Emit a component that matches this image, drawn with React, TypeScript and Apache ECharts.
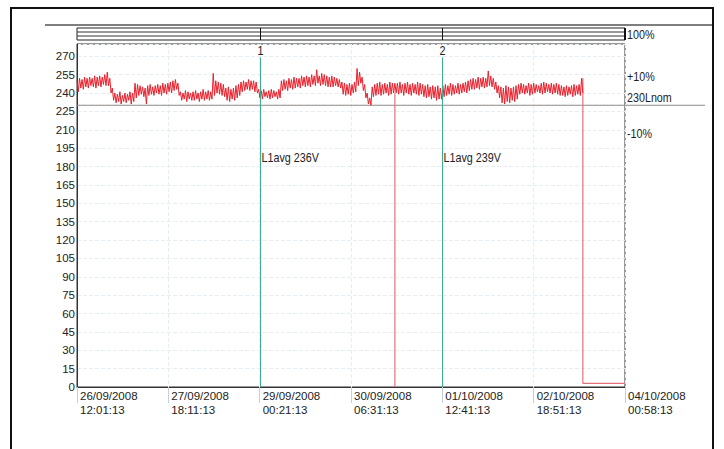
import React, { useEffect, useRef } from 'react';
import * as echarts from 'echarts';

// X axis: minutes since 26/09/2008 12:01:13
const xTickLabels = [
  '26/09/2008\n12:01:13',
  '27/09/2008\n18:11:13',
  '29/09/2008\n00:21:13',
  '30/09/2008\n06:31:13',
  '01/10/2008\n12:41:13',
  '02/10/2008\n18:51:13',
  '04/10/2008\n00:58:13',
];
const tickStepMin = 1810;
const xMaxMin = 10860;

// Y axis
const yMax = 280;
const yStep = 15;
const yLastLabel = 270;

// L1 voltage envelope per 50-minute bucket (max / min)
const bucketMin = 50;
const voltageMax = [
  250, 252, 251, 253, 252, 253, 252, 254, 253, 254, 253, 255, 257, 252, 244,
  240, 239, 241, 238, 240, 239, 241, 240,
  248,
  247, 246, 245, 244, 246, 247, 245, 246, 247, 246, 248, 247, 248, 249,
  250, 251, 248,
  241, 240, 242, 241, 240, 241, 242, 240, 241, 243, 241, 242, 241,
  256,
  250, 249, 248, 247,
  244, 245, 243, 244, 246, 247,
  249, 250, 249, 251, 250, 250, 249,
  243, 242, 243, 241, 242, 243, 242, 241, 243,
  250, 251, 250, 252, 251, 253, 252, 252, 254, 253, 254, 253, 255, 254, 259, 254, 256, 255, 254, 253,
  254, 253, 252, 251,
  249, 248, 247, 248, 247, 249,
  260,
  257, 253, 247, 240, 236,
  245, 247, 248, 249, 247, 248, 247, 249, 248,
  248,
  248, 249, 247, 248, 249, 247, 248, 247, 249, 248, 247, 246, 247, 245, 246, 245, 246, 244,
  246, 247, 246, 248, 247, 246, 248, 247, 248, 249, 250, 251,
  252, 251, 253, 252, 253, 252, 258, 254,
  252, 249, 246,
  245, 244, 246, 245, 244, 245, 246,
  247, 248, 247, 246, 248, 247, 248, 247, 246, 248, 249, 248, 247, 248, 247, 248, 247,
  246, 245, 246, 245, 246, 247, 246, 247,
  252,
];
const voltageMin = [
  241, 244, 243, 245, 244, 246, 245, 244, 246, 245, 247, 246, 246, 240, 234,
  232, 233, 231, 233, 232, 234, 231, 233,
  236,
  238, 239, 237, 231, 238, 239, 238, 240, 239, 238, 240, 239, 241, 240,
  242, 243, 238,
  234, 235, 233, 235, 234, 234, 235, 233, 235, 234, 235, 234, 235,
  238,
  240, 239, 238, 237,
  234, 233, 235, 234, 236, 238,
  241, 242, 243, 242, 243, 241, 240,
  236, 235, 237, 236, 235, 236, 237, 235, 236,
  242, 243, 242, 244, 243, 244, 245, 244, 246, 245, 246, 245, 247, 246, 248, 246, 247, 246, 245, 245,
  245, 246, 245, 244,
  239, 238, 239, 238, 240, 241,
  246,
  248, 242, 236, 231, 230,
  237, 238, 239, 238, 239, 240, 238, 239, 240,
  240,
  239, 240, 238, 240, 239, 238, 240, 239, 238, 239, 237, 236, 237, 235, 236, 234, 235, 235,
  237, 238, 239, 238, 239, 240, 239, 240, 241, 240, 242, 243,
  243, 244, 243, 245, 244, 245, 246, 245,
  243, 240, 236,
  232, 231, 233, 232, 234, 233, 235,
  239, 240, 239, 240, 238, 239, 240, 241, 240, 239, 240, 241, 240, 239, 240, 239, 238,
  238, 237, 238, 239, 237, 238, 239, 238,
  240,
];
// short dropout to 0 V (minutes since start)
const dropoutMinutes = [6300];
// after the last bucket the voltage falls to ~3 V until the end
const tailValue = 3;

const cursors = [
  { t: 3620, name: '1', label: 'L1avg 236V', labelValue: 188 },
  { t: 7240, name: '2', label: 'L1avg 239V', labelValue: 188 },
];
const nominal = 230;
const upperLimit = 253;
const lowerLimit = 207;
const cursorTop = 269;

const AXIS_FONT = "'Liberation Sans', Arial, sans-serif";
const RED = '#e8202c';
const PINK = '#e4707c';
const TEAL = '#3aae8e';

export default function App() {
  const ref = useRef<HTMLDivElement>(null);

  useEffect(() => {
    if (!ref.current) return;
    const chart = echarts.init(ref.current, undefined, { renderer: 'svg' });

    const n = Math.min(voltageMax.length, voltageMin.length);
    const trace: number[][] = [];
    for (let i = 0; i < n; i++) {
      const t = i * bucketMin;
      trace.push([t, voltageMax[i]]);
      trace.push([t + bucketMin / 2, voltageMin[i]]);
    }
    const lastT = (n - 1) * bucketMin + bucketMin / 2;

    // dropouts: vertical excursions to 0 V, then the final fall to the tail value
    const drops: (number[] | null)[] = [];
    dropoutMinutes.forEach((t) => {
      const i = Math.round(t / bucketMin);
      drops.push([t, voltageMin[i]], [t, 0], null);
    });
    drops.push([lastT, voltageMax[n - 1]], [lastT, tailValue], [xMaxMin, tailValue]);

    const gridLeft = 77;
    const gridRight = 625;
    const gridTop = 44;
    const gridBottom = 387;

    chart.setOption({
      animation: false,
      backgroundColor: '#ffffff',
      grid: {
        left: gridLeft,
        right: 724 - gridRight,
        top: gridTop,
        bottom: 449 - gridBottom,
        show: true,
        borderColor: '#333',
        borderWidth: 1,
      },
      xAxis: {
        type: 'value',
        min: 0,
        max: xMaxMin,
        interval: tickStepMin,
        axisLine: { show: true, lineStyle: { color: '#333', width: 1 } },
        axisTick: { show: true, length: 16, lineStyle: { color: '#c3d0dc' } },
        axisLabel: {
          formatter: (v: number) => {
            const idx = Math.round(v / tickStepMin);
            return Math.abs(v - idx * tickStepMin) < 1 ? xTickLabels[idx] ?? '' : '';
          },
          align: 'left',
          color: '#222',
          fontFamily: AXIS_FONT,
          fontSize: 11.5,
          lineHeight: 14,
          margin: 2,
          padding: [0, 0, 0, 3],
          showMaxLabel: true,
        },
        splitLine: { show: true, lineStyle: { color: '#e6edf3', type: 'dashed' } },
      },
      yAxis: {
        type: 'value',
        min: 0,
        max: yMax,
        interval: yStep,
        axisLine: { show: true, lineStyle: { color: '#333' } },
        axisTick: { show: false },
        axisLabel: {
          formatter: (v: number) => (v > yLastLabel ? '' : String(v)),
          color: '#222',
          fontFamily: AXIS_FONT,
          fontSize: 11.5,
          margin: 2,
        },
        splitLine: { show: true, lineStyle: { color: '#e6edf3', type: 'dashed' } },
      },
      series: [
        {
          type: 'line',
          name: 'dropouts',
          data: drops,
          connectNulls: false,
          symbol: 'none',
          lineStyle: { color: PINK, width: 1.2 },
          itemStyle: { color: PINK },
          z: 2,
        },
        {
          type: 'line',
          name: 'L1',
          data: trace,
          symbol: 'none',
          lineStyle: { color: RED, width: 1 },
          itemStyle: { color: RED },
          z: 3,
        },
      ],
    });

    const px = (t: number) => chart.convertToPixel({ xAxisIndex: 0 }, t) as number;
    const py = (v: number) => chart.convertToPixel({ yAxisIndex: 0 }, v) as number;

    const narrowText = (x: number, y: number, text: string, extra: any = {}) => ({
      type: 'text',
      x,
      y,
      scaleX: 0.86,
      silent: true,
      style: {
        text,
        fill: '#222',
        fontFamily: AXIS_FONT,
        fontSize: 12.5,
        verticalAlign: 'middle',
        ...extra,
      },
    });

    const graphics: any[] = [
      {
        type: 'rect',
        shape: { x: 11, y: 8, width: 702, height: 470 },
        style: { fill: 'none', stroke: '#111', lineWidth: 2 },
        silent: true,
      },
      {
        type: 'line',
        shape: { x1: 45, y1: 25, x2: 712, y2: 25 },
        style: { stroke: '#555', lineWidth: 1.5 },
        silent: true,
      },
      {
        type: 'rect',
        shape: { x: gridLeft, y: 28, width: gridRight - gridLeft, height: 12 },
        style: { fill: 'none', stroke: '#222', lineWidth: 1 },
        silent: true,
      },
      {
        type: 'line',
        shape: { x1: gridLeft, y1: 32, x2: gridRight, y2: 32 },
        style: { stroke: '#333', lineWidth: 1 },
        silent: true,
      },
      {
        type: 'line',
        shape: { x1: gridLeft, y1: 36, x2: gridRight, y2: 36 },
        style: { stroke: '#333', lineWidth: 1 },
        silent: true,
      },
      {
        type: 'line',
        shape: { x1: gridRight, y1: 28, x2: gridRight, y2: 40 },
        style: { stroke: '#111', lineWidth: 2 },
        silent: true,
      },
      narrowText(gridRight + 2, 34, '100%'),
      {
        type: 'line',
        shape: { x1: gridLeft, y1: py(nominal), x2: 705, y2: py(nominal) },
        style: { stroke: '#8a8a8a', lineWidth: 1 },
        silent: true,
        z: 1,
      },
      narrowText(gridRight + 2, py(upperLimit) - 1, '+10%'),
      narrowText(gridRight + 2, py(nominal) - 8, nominal + 'Lnom'),
      narrowText(gridRight + 2, py(lowerLimit), '-10%'),
    ];

    cursors.forEach((c) => {
      const x = Math.round(px(c.t)) + 0.5;
      graphics.push(
        {
          type: 'line',
          shape: { x1: x, y1: py(0), x2: x, y2: py(cursorTop) },
          style: { stroke: TEAL, lineWidth: 1 },
          silent: true,
          z: 10,
        },
        {
          type: 'line',
          shape: { x1: x, y1: 28, x2: x, y2: 40 },
          style: { stroke: '#111', lineWidth: 1 },
          silent: true,
        },
        narrowText(x - 3, gridTop + 6, c.name),
        narrowText(x + 1, py(c.labelValue), c.label)
      );
    });

    chart.setOption({ graphic: graphics });

    return () => chart.dispose();
  }, []);

  return <div ref={ref} style={{ width: 724, height: 449, position: 'absolute', left: 0, top: 0 }} />;
}
